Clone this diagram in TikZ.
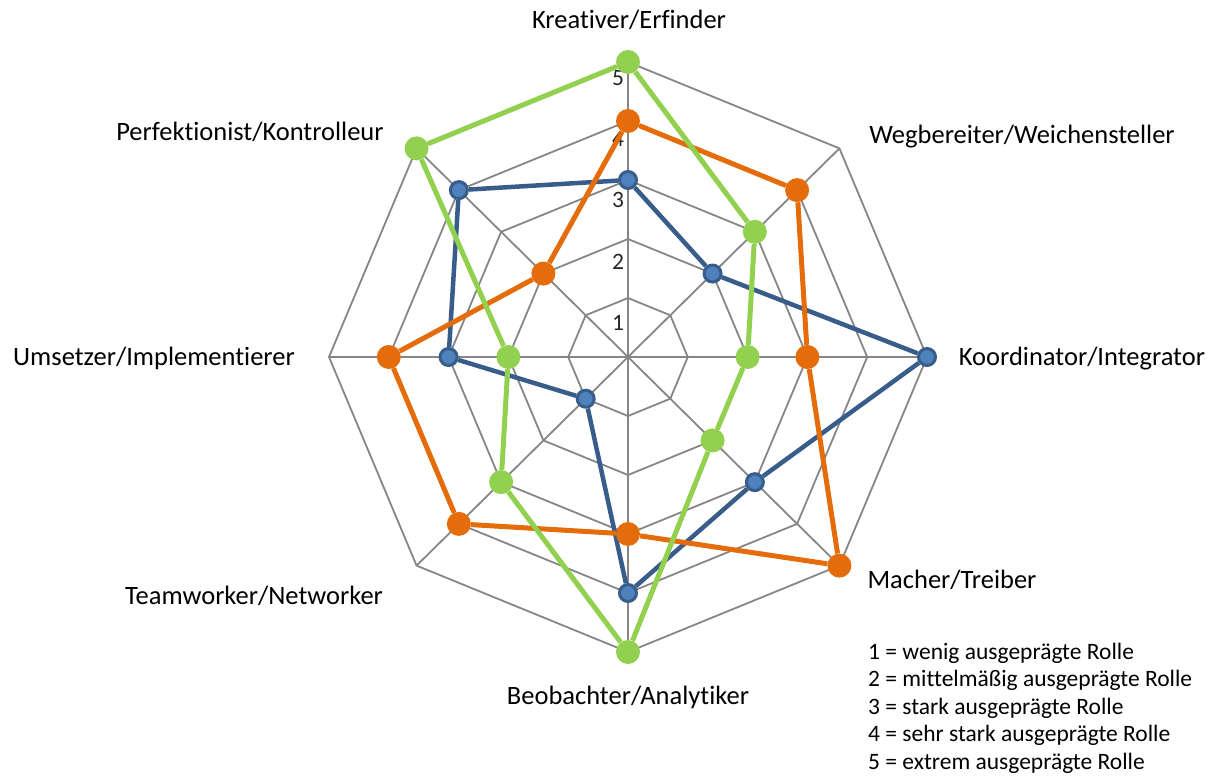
\documentclass[tikz,border=0pt]{standalone}
\usepackage{fontspec}
\setmainfont{Carlito}[Ligatures=NoCommon]
\usetikzlibrary{positioning}
\definecolor{gridgray}{RGB}{134,134,134}
\definecolor{lineblue}{RGB}{56,93,138}
\definecolor{fillblue}{RGB}{79,129,189}
\definecolor{lineorange}{RGB}{228,108,10}
\definecolor{linegreen}{RGB}{146,208,80}
\tikzset{
  gridline/.style={gridgray,line width=1.8pt},
  axislabel/.style={font=\fontsize{26.5}{30}\selectfont,inner sep=0pt},
  scalenum/.style={font=\fontsize{23.5}{28}\selectfont,inner sep=0pt,text=black!85},
  legendline/.style={font=\fontsize{23.5}{28}\selectfont,inner sep=0pt,anchor=base west},
  bluemark/.style={circle,inner sep=0pt,minimum size=17pt,fill=fillblue,draw=lineblue,line width=3pt},
  orangemark/.style={circle,inner sep=0pt,minimum size=24pt,fill=lineorange},
  greenmark/.style={circle,inner sep=0pt,minimum size=24pt,fill=linegreen},
}

\begin{document}
\begin{tikzpicture}[x=59.8pt,y=59pt]
\useasboundingbox (-628pt,-419pt) rectangle (584pt,357pt);
\coordinate (o) at (0,0);
\foreach \r in {1,...,5}
  \draw[gridline] (90:\r) \foreach \i in {1,...,7} { -- ({90-45*\i}:\r) } -- cycle;
\foreach \i in {0,...,7}
  \draw[gridline] (o) -- ({90-45*\i}:5);
\foreach \k in {1,...,5}
  \node[scalenum] (n\k) at (-10pt,{34pt+61.3pt*(\k-1)}) {\k};

\node[axislabel] (kreativ) at (1pt,337pt) {Kreativer/Erfinder};
\node[axislabel] (wegber) at (394pt,220pt) {Wegbereiter/Weichensteller};
\node[axislabel] (koord) at (454pt,-2pt) {Koordinator/Integrator};
\node[axislabel] (macher) at (324pt,-223pt) {Macher/Treiber};
\node[axislabel] (beob) at (0pt,-340pt) {Beobachter/Analytiker};
\node[axislabel] (team) at (-374pt,-239pt) {Teamworker/Networker};
\node[axislabel] (umsetz) at (-474pt,-1pt) {Umsetzer/Implementierer};
\node[axislabel] (perfekt) at (-378pt,225pt) {Perfektionist/Kontrolleur};

\foreach \v [count=\i from 0] in {3,2,5,3,4,1,3,4}
  \node[bluemark] (b\i) at ({90-45*\i}:\v) {};
\draw[lineblue,line width=4.5pt] (b0) -- (b1) -- (b2) -- (b3) -- (b4) -- (b5) -- (b6) -- (b7) -- (b0);

\foreach \v [count=\i from 0] in {4,4,3,5,3,4,4,2}
  \node[orangemark] (r\i) at ({90-45*\i}:\v) {};
\draw[lineorange,line width=5pt] (r0) -- (r1) -- (r2) -- (r3) -- (r4) -- (r5) -- (r6) -- (r7) -- (r0);

\foreach \v [count=\i from 0] in {5,3,2,2,5,3,2,5}
  \node[greenmark] (g\i) at ({90-45*\i}:\v) {};
\draw[linegreen,line width=5pt] (g0) -- (g1) -- (g2) -- (g3) -- (g4) -- (g5) -- (g6) -- (g7) -- (g0);

\foreach \k/\txt in {1/wenig,2/mittelmäßig,3/stark,4/sehr stark,5/extrem}
  \node[legendline] (leg\k) at (240pt,{-302pt-27.5pt*(\k-1)}) {\k{} = \txt{} ausgeprägte Rolle};
\end{tikzpicture}
\end{document}
